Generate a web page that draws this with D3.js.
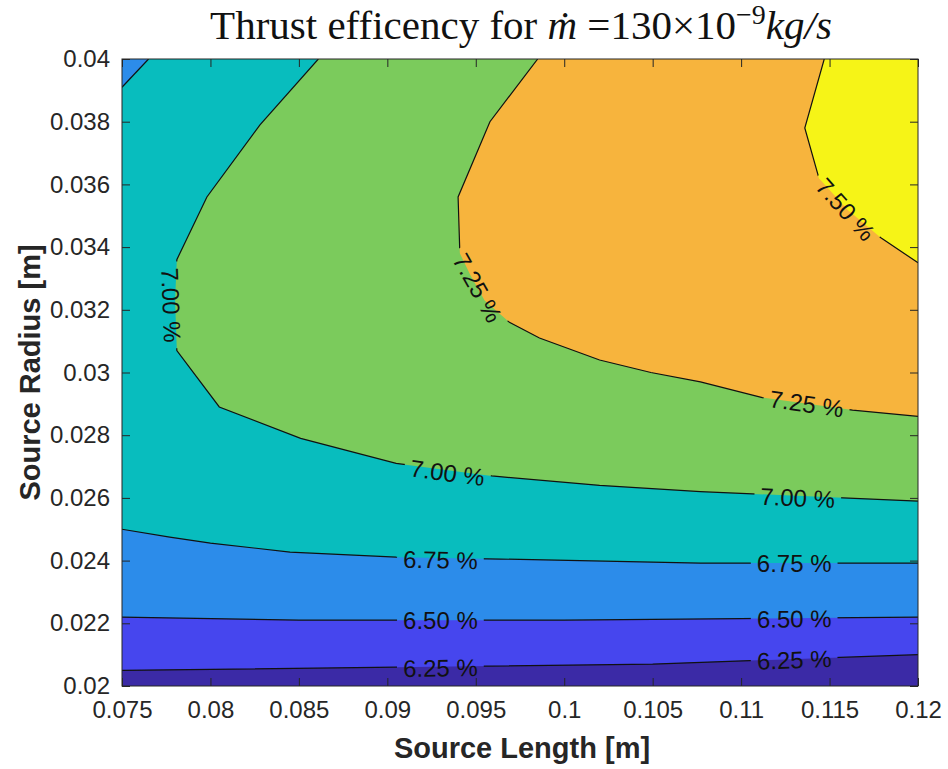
<!DOCTYPE html>
<html>
<head>
<meta charset="utf-8">
<script src="https://cdn.jsdelivr.net/npm/d3@7"></script>
<style>
  body { margin: 0; background: #fff; }
  svg text { font-family: "Liberation Sans", Arial, Helvetica, sans-serif; }
</style>
</head>
<body>
<div id="plot"></div>
<script>
// Axis ticks
const xTicks = [0.075, 0.08, 0.085, 0.09, 0.095, 0.1, 0.105, 0.11, 0.115, 0.12];
const xTickLabels = ["0.075", "0.08", "0.085", "0.09", "0.095", "0.1", "0.105", "0.11", "0.115", "0.12"];
const yTicks = [0.02, 0.022, 0.024, 0.026, 0.028, 0.03, 0.032, 0.034, 0.036, 0.038, 0.04];
const yTickLabels = ["0.02", "0.022", "0.024", "0.026", "0.028", "0.03", "0.032", "0.034", "0.036", "0.038", "0.04"];

// Contour levels (%) and the band colours between them (lowest band first)
const levels = [6.25, 6.50, 6.75, 7.00, 7.25, 7.50];
const bandColors = ["#3b2aa6", "#4646ee", "#2c8cea", "#08bdbe", "#7bcb5c", "#f7b43d", "#f6f417"];

// Contour lines: [source length, source radius]
const c625 = [[0.075, 0.0205], [0.0905, 0.0206], [0.105, 0.0207], [0.12, 0.0210]];
const c650 = [[0.075, 0.0222], [0.085, 0.0221], [0.1, 0.0221], [0.11, 0.02215], [0.12, 0.0222]];
const c675 = [[0.075, 0.0250], [0.0777, 0.02475], [0.0800, 0.02456], [0.0845, 0.02427], [0.0905, 0.02411],
              [0.0964, 0.02405], [0.1077, 0.02392], [0.12, 0.02392]];
const c675corner = [[0.0765, 0.04], [0.075, 0.0391]];
const c700 = [[0.0861, 0.04], [0.0828, 0.0379], [0.0798, 0.0356], [0.0781, 0.0336], [0.0780, 0.0323],
              [0.0781, 0.0307], [0.0805, 0.0289], [0.0851, 0.0279], [0.0905, 0.0271], [0.0959, 0.0267],
              [0.1020, 0.0264], [0.1077, 0.0262], [0.12, 0.0259]];
const c725 = [[0.0985, 0.04], [0.0958, 0.0380], [0.0940, 0.0356], [0.0941, 0.0338], [0.0947, 0.0331],
              [0.0955, 0.0323], [0.0969, 0.0316], [0.0986, 0.0311], [0.1020, 0.0304], [0.1049, 0.0300],
              [0.1077, 0.0297], [0.1112, 0.0292], [0.1163, 0.0288], [0.12, 0.0286]];
const c750 = [[0.1147, 0.04], [0.1136, 0.0378], [0.1144, 0.0362], [0.1160, 0.0352], [0.1179, 0.0343], [0.12, 0.0335]];

// Inline contour labels
const labelLevels = [6.25, 6.25, 6.50, 6.50, 6.75, 6.75, 7.00, 7.00, 7.00, 7.25, 7.25, 7.50];
const labelX = [0.0930, 0.1130, 0.0930, 0.1130, 0.0930, 0.1130, 0.07777, 0.0934, 0.1132, 0.0951, 0.1137, 0.1159];
const labelY = [0.02057, 0.02083, 0.0221, 0.02214, 0.02402, 0.02392, 0.03215, 0.0268, 0.0260, 0.0327, 0.0290, 0.0352];

const margin = { top: 59, right: 30, bottom: 83, left: 122 },
      width = 948 - margin.left - margin.right,
      height = 769 - margin.top - margin.bottom;

const svg = d3.select("#plot")
  .append("svg")
    .attr("width", 948)
    .attr("height", 769);

const x = d3.scaleLinear().domain([xTicks[0], xTicks[xTicks.length - 1]]).range([margin.left, margin.left + width]);
const y = d3.scaleLinear().domain([yTicks[0], yTicks[yTicks.length - 1]]).range([margin.top + height, margin.top]);
const [xMin, xMax] = x.domain();
const [yMin, yMax] = y.domain();

const line = d3.line().x(d => x(d[0])).y(d => y(d[1]));

// clip to the plot area
const defs = svg.append("defs");
defs.append("clipPath").attr("id", "plotClip")
  .append("rect")
    .attr("x", margin.left).attr("y", margin.top)
    .attr("width", width).attr("height", height);

const plot = svg.append("g").attr("clip-path", "url(#plotClip)");

// filled bands: lowest colour as background, then each region above a level
plot.append("rect")
  .attr("x", margin.left).attr("y", margin.top)
  .attr("width", width).attr("height", height)
  .attr("fill", bandColors[0]);

const regions = [
  c625.concat([[xMax, yMax], [xMin, yMax]]),
  c650.concat([[xMax, yMax], [xMin, yMax]]),
  c675.concat([[xMax, yMax]], c675corner),
  c700.concat([[xMax, yMax]]),
  c725.concat([[xMax, yMax]]),
  c750.concat([[xMax, yMax]])
];

plot.selectAll(".band")
  .data(regions)
  .enter()
  .append("path")
    .attr("class", "band")
    .attr("d", d => line(d) + "Z")
    .attr("fill", (d, i) => bandColors[i + 1]);

// labels (drawn first so the line gaps can be sized from them)
const contourFor = { 6.25: [c625], 6.5: [c650], 6.75: [c675], 7: [c700], 7.25: [c725], 7.5: [c750] };

function labelAngle(lv, px, py) {
  let best = null, bestD = Infinity;
  contourFor[lv].forEach(c => {
    for (let i = 0; i < c.length - 1; i++) {
      const ax = x(c[i][0]), ay = y(c[i][1]), bx = x(c[i + 1][0]), by = y(c[i + 1][1]);
      const dx = bx - ax, dy = by - ay;
      const t = Math.max(0, Math.min(1, ((px - ax) * dx + (py - ay) * dy) / (dx * dx + dy * dy)));
      const qx = ax + t * dx - px, qy = ay + t * dy - py;
      const dd = qx * qx + qy * qy;
      if (dd < bestD) { bestD = dd; best = [dx, dy]; }
    }
  });
  let a = Math.atan2(best[1], best[0]) * 180 / Math.PI;
  if (a > 90) a -= 180;
  if (a <= -90) a += 180;
  return a;
}

const labels = labelLevels.map((lv, i) => {
  const px = x(labelX[i]), py = y(labelY[i]);
  return { text: lv.toFixed(2) + " %", px, py, angle: labelAngle(lv, px, py) };
});

const labelG = svg.append("g");
labelG.selectAll("text")
  .data(labels)
  .enter()
  .append("text")
    .attr("transform", d => `translate(${d.px},${d.py}) rotate(${d.angle})`)
    .attr("text-anchor", "middle")
    .attr("dy", "0.35em")
    .style("font-size", "24px")
    .attr("fill", "#111")
    .text(d => d.text)
    .each(function(d) { d.w = this.getComputedTextLength(); });

// mask cutting gaps in the lines under each label
const mask = defs.append("mask").attr("id", "lineMask").attr("maskUnits", "userSpaceOnUse")
  .attr("x", 0).attr("y", 0).attr("width", 948).attr("height", 769);
mask.append("rect").attr("width", 948).attr("height", 769).attr("fill", "white");
mask.selectAll(".gap")
  .data(labels)
  .enter()
  .append("rect")
    .attr("transform", d => `translate(${d.px},${d.py}) rotate(${d.angle})`)
    .attr("x", d => -d.w / 2 - 6)
    .attr("y", -12)
    .attr("width", d => d.w + 12)
    .attr("height", 24)
    .attr("fill", "black");

const lineG = plot.append("g").attr("mask", "url(#lineMask)");
lineG.selectAll(".contour")
  .data([c625, c650, c675, c675corner, c700, c725, c750])
  .enter()
  .append("path")
    .attr("class", "contour")
    .attr("d", line)
    .attr("fill", "none")
    .attr("stroke", "#111")
    .attr("stroke-width", 1.2);

labelG.raise();

// axes with inward ticks on all four sides
const axisColor = "#262626";
function styleAxis(g) {
  g.select(".domain").remove();
  g.selectAll("line").attr("stroke", axisColor);
  g.selectAll("text").style("font-size", "24px").attr("fill", axisColor);
}

svg.append("g")
  .attr("transform", `translate(0,${margin.top + height})`)
  .call(d3.axisBottom(x).tickValues(xTicks).tickFormat((d, i) => xTickLabels[i])
    .tickSizeInner(-8).tickSizeOuter(0).tickPadding(15))
  .call(styleAxis);

svg.append("g")
  .attr("transform", `translate(0,${margin.top})`)
  .call(d3.axisTop(x).tickValues(xTicks).tickFormat("").tickSizeInner(-8).tickSizeOuter(0))
  .call(styleAxis);

svg.append("g")
  .attr("transform", `translate(${margin.left},0)`)
  .call(d3.axisLeft(y).tickValues(yTicks).tickFormat((d, i) => yTickLabels[i])
    .tickSizeInner(-8).tickSizeOuter(0).tickPadding(12))
  .call(styleAxis);

svg.append("g")
  .attr("transform", `translate(${margin.left + width},0)`)
  .call(d3.axisRight(y).tickValues(yTicks).tickFormat("").tickSizeInner(-8).tickSizeOuter(0))
  .call(styleAxis);

svg.append("rect")
  .attr("x", margin.left).attr("y", margin.top)
  .attr("width", width).attr("height", height)
  .attr("fill", "none")
  .attr("stroke", axisColor)
  .attr("stroke-width", 1);

// axis titles
svg.append("text")
  .attr("x", margin.left + width / 2 + 2)
  .attr("y", 758)
  .attr("text-anchor", "middle")
  .style("font-size", "29px")
  .style("font-weight", "bold")
  .attr("fill", axisColor)
  .text("Source Length [m]");

svg.append("text")
  .attr("transform", `translate(40,${margin.top + height / 2}) rotate(-90)`)
  .attr("text-anchor", "middle")
  .style("font-size", "29px")
  .style("font-weight", "bold")
  .attr("fill", axisColor)
  .text("Source Radius [m]");

// title (LaTeX-style)
const title = svg.append("text")
  .attr("x", margin.left + width / 2 + 1)
  .attr("y", 39)
  .attr("text-anchor", "middle")
  .style("font-family", "'Liberation Serif', 'DejaVu Serif', serif")
  .style("font-size", "41px")
  .attr("fill", "#111");
title.append("tspan").text("Thrust efficency for ");
title.append("tspan").style("font-style", "italic").text("m\u0307");
title.append("tspan").text(" =130\u00d710");
title.append("tspan").attr("dy", -15).style("font-size", "28px").text("\u22129");
title.append("tspan").attr("dy", 15).style("font-style", "italic").text("kg/s");
</script>
</body>
</html>
